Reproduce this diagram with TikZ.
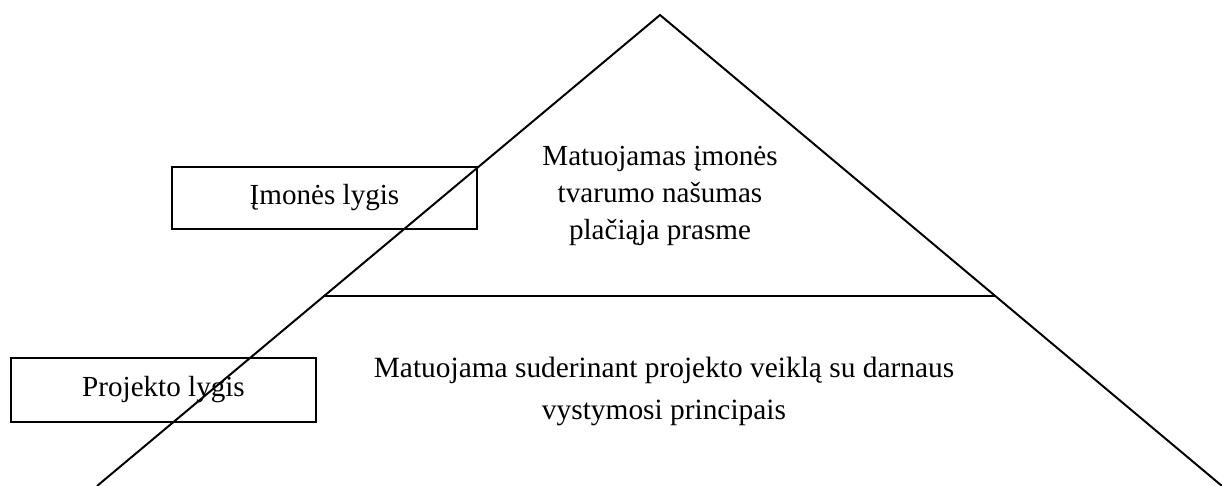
\documentclass[tikz,border=0pt]{standalone}
\usepackage{fontspec}
\setmainfont{Liberation Serif}
\usetikzlibrary{calc}
\tikzset{
  level/.style={draw, line width=0.8pt, minimum width=7.625cm, minimum height=1.55cm, inner sep=0pt},
  side/.style={line width=1.4pt},
  claim/.style={align=center, anchor=north, inner sep=0pt},
}
\begin{document}
\begin{tikzpicture}[x=0.025cm, y=-0.025cm, font=\fontsize{20.7pt}{26.3pt}\selectfont]
  \useasboundingbox (0,0) rectangle (1222,486);
  % pyramid
  \coordinate (top) at (660,15);
  \coordinate (lb) at (97,486);
  \coordinate (rb) at (1222,486);
  \coordinate (midl) at ($(top)!0.5966!(lb)$);
  \coordinate (midr) at ($(top)!0.5966!(rb)$);
  \draw[side] (lb) -- (top) -- (rb);
  \draw[line width=0.8pt] (midl) -- (midr);
  % levels
  \node[level] (imone) at (324.5,198) {Įmonės lygis};
  \node[level, minimum height=1.6cm] (projektas) at (163.5,390) {Projekto lygis};
  % texts in the pyramid
  \node[claim] (virsus) at (660,146) {Matuojamas įmonės\\ tvarumo našumas\\ plačiąja prasme};
  \node[claim, font=\fontsize{20.9pt}{29.9pt}\selectfont] (apacia) at (664,357)
    {Matuojama suderinant projekto veiklą su darnaus\\ vystymosi principais};
\end{tikzpicture}
\end{document}
